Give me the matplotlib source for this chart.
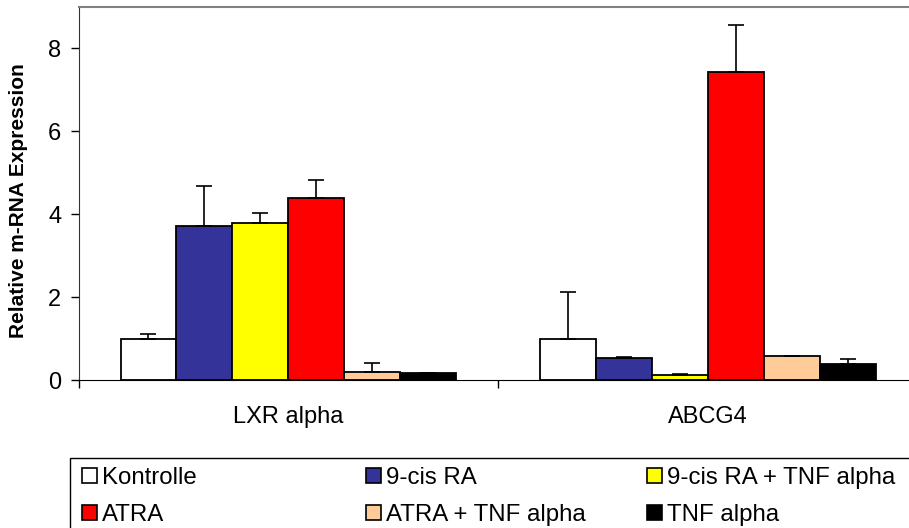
import matplotlib
matplotlib.use('Agg')
import matplotlib.pyplot as plt
from matplotlib.patches import Patch, Rectangle
import numpy as np

plt.rcParams['font.family'] = ['Liberation Sans', 'DejaVu Sans']

# Data
genes = ['LXR alpha', 'ABCG4']
treatments = ['Kontrolle', '9-cis RA', '9-cis RA + TNF alpha',
              'ATRA', 'ATRA + TNF alpha', 'TNF alpha']
colors = ['#FFFFFF', '#333399', '#FFFF00', '#FF0000', '#FFCC99', '#000000']

# mean values per treatment: [LXR alpha, ABCG4]
kontrolle = [1.00, 1.00]
cis_ra = [3.71, 0.52]
cis_ra_tnf = [3.79, 0.12]
atra = [4.39, 7.43]
atra_tnf = [0.20, 0.57]
tnf = [0.16, 0.39]

# upper error (SD) per treatment: [LXR alpha, ABCG4]
kontrolle_err = [0.11, 1.12]
cis_ra_err = [0.96, 0.03]
cis_ra_tnf_err = [0.24, 0.02]
atra_err = [0.44, 1.12]
atra_tnf_err = [0.22, 0.01]
tnf_err = [0.02, 0.11]

values = [kontrolle, cis_ra, cis_ra_tnf, atra, atra_tnf, tnf]
errors = [kontrolle_err, cis_ra_err, cis_ra_tnf_err, atra_err, atra_tnf_err, tnf_err]

fig = plt.figure(figsize=(9.09, 5.28), dpi=100)
ax = fig.add_axes([0.0864, 0.2803, 0.9235, 0.707])

x = np.arange(len(genes))
n = len(treatments)
width = 0.8 / n
for i, (vals, errs) in enumerate(zip(values, errors)):
    pos = x - 0.4 + width * (i + 0.5)
    ax.bar(pos, vals, width=width, color=colors[i], edgecolor='black',
           linewidth=1.3, zorder=2)
    ax.errorbar(pos, vals, yerr=[np.zeros(len(errs)), errs], fmt='none',
                ecolor='black', elinewidth=1.2, capsize=5.8, capthick=1.2,
                zorder=3)

ax.set_xlim(-0.5, len(genes) - 0.5)
ax.set_ylim(0, 9)
ax.set_yticks([0, 2, 4, 6, 8])
ax.tick_params(axis='y', labelsize=17, length=5.5, width=1, pad=7, direction='out')

# tick marks between categories, labels at category centres
ax.set_xticks(np.arange(len(genes) + 1) - 0.5)
ax.set_xticklabels([])
ax.tick_params(axis='x', which='major', length=6, width=1, direction='out')
ax.set_xticks(x, minor=True)
ax.set_xticklabels(genes, minor=True)
ax.tick_params(axis='x', which='minor', length=0, labelsize=17, pad=19)

ax.spines['top'].set_color('#808080')
ax.spines['top'].set_linewidth(1.5)
ax.spines['right'].set_color('#808080')
ax.spines['left'].set_color('#333333')
ax.spines['bottom'].set_color('black')

fig.text(19 / 909, 1 - 201 / 528, 'Relative m-RNA Expression', rotation=90,
         ha='center', va='center', fontsize=15, fontweight='bold')

# legend frame (runs off the figure edge like the reference)
frame = Rectangle((70 / 909, -0.05), 0.95, 1 - 457.7 / 528 + 0.05,
                  transform=fig.transFigure, fill=False, edgecolor='black',
                  linewidth=1, clip_on=False)
fig.add_artist(frame)

col_x = [82, 366, 647]
for c in range(3):
    idx = [c, c + 3]
    handles = [Patch(facecolor=colors[k], edgecolor='black', linewidth=1.2)
               for k in idx]
    fig.legend(handles, [treatments[k] for k in idx], loc='upper left',
               bbox_to_anchor=(col_x[c] / 909, 1 - 467 / 528), frameon=False,
               fontsize=17.3, handlelength=0.62, handleheight=0.62,
               handletextpad=0.2, labelspacing=0.62, borderpad=0,
               borderaxespad=0)

fig.savefig('out.png', dpi=100)
